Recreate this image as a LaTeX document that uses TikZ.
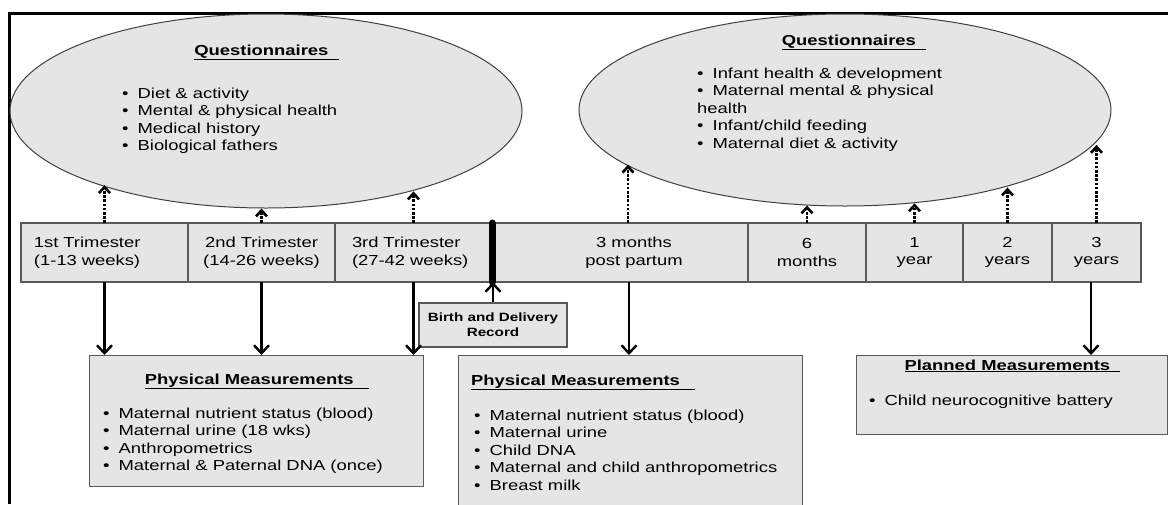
\documentclass[tikz,border=0pt]{standalone}
\usepackage{fontspec}
\setmainfont{Liberation Sans}[FakeStretch=1.27]
\usetikzlibrary{arrows.meta,positioning,shapes.geometric}
\newcommand{\itm}{\textbullet\hspace{9pt}}

\begin{document}
\begin{tikzpicture}[x=1pt,y=-1pt,
  font=\fontsize{14.5}{17.5}\selectfont,
  qbubble/.style={ellipse,draw=black!75,line width=1pt,fill=gray!20,inner sep=0pt},
  period/.style={draw=black!65,line width=1.3pt,fill=gray!20,minimum height=59pt,inner sep=0pt,outer sep=0pt,align=center},
  mbox/.style={draw=black!65,line width=1.3pt,fill=gray!20,inner sep=0pt,anchor=north west},
  ttl/.style={font=\fontsize{14.5}{17.5}\selectfont\bfseries,inner sep=0pt,anchor=base},
  lst/.style={align=left,inner sep=0pt,anchor=north west},
  meas/.style={-{Straight Barb[length=8pt,width=15pt]},line width=2.4pt},
  quest/.style={-{Straight Barb[length=6pt,width=11pt]},line width=2.6pt,dash pattern=on 2.6pt off 1.6pt}]
\useasboundingbox (0,0) rectangle (1168,504);
\clip (0,0) rectangle (1168,504);
\draw[line width=3pt] (9,504) -- (9,13) -- (1168,13);
% questionnaires
\node[qbubble,minimum width=512pt,minimum height=194pt] (qa) at (266,111) {};
\node[qbubble,minimum width=532pt,minimum height=192pt] (qb) at (845,110) {};
\node[ttl] (qaT) at (266.5,55) {\underline{Questionnaires~~}};
\node[ttl] (qbT) at (854,45) {\underline{Questionnaires~~}};
\node[lst] (qaL) at (122,87.5) {\itm Diet \& activity\\\itm Mental \& physical health\\\itm Medical history\\\itm Biological fathers};
\node[lst] (qbL) at (697,67.5) {\itm Infant health \& development\\\itm Maternal mental \& physical\\health\\\itm Infant/child feeding\\\itm Maternal diet \& activity};
% timeline
\node[period,minimum width=167pt,text width=141pt,inner xsep=13pt,align=left,anchor=north west] (t1) at (21,223) {1st Trimester\\(1-13 weeks)};
\node[period,minimum width=147pt,right=0pt of t1] (t2) {2nd Trimester\\(14-26 weeks)};
\node[period,minimum width=157pt,text width=123pt,inner xsep=17pt,align=left,right=0pt of t2] (t3) {3rd Trimester\\(27-42 weeks)};
\node[period,minimum width=256pt,right=0pt of t3] (t4) {};
\node[align=center,inner sep=0pt] (t4txt) at ([xshift=14pt]t4.center) {3 months\\post partum};
\node[period,minimum width=118pt,right=0pt of t4] (t5) {6\\months};
\node[period,minimum width=97pt,right=0pt of t5] (t6) {1\\year};
\node[period,minimum width=89pt,right=0pt of t6] (t7) {2\\years};
\node[period,minimum width=89pt,right=0pt of t7] (t8) {3\\years};
% birth
\draw[line width=7pt,line cap=round] (t3.north east) -- (t3.south east);
\node[mbox,anchor=center,minimum width=148pt,minimum height=44pt,align=center,font=\fontsize{12}{15}\selectfont\bfseries] (bd) at (493,325) {Birth and Delivery\\Record};
\draw[meas] (bd.north) -- (bd.north |- t3.south);
% measurements
\node[mbox,minimum width=334pt,minimum height=131pt] (pm1) at (89,355) {};
\node[mbox,minimum width=344pt,minimum height=170pt] (pm2) at (458,355) {};
\node[mbox,minimum width=311pt,minimum height=79pt] (pl) at (856,355) {};
\node[ttl] (pm1T) at (257,384) {\underline{Physical Measurements~~~}};
\node[ttl,anchor=base west] (pm2T) at (471,385) {\underline{Physical Measurements~~~}};
\node[ttl] (plT) at (1012.5,370) {\underline{Planned Measurements~~}};
\node[lst] (pm1L) at (103,407.5) {\itm Maternal nutrient status (blood)\\\itm Maternal urine (18 wks)\\\itm Anthropometrics\\\itm Maternal \& Paternal DNA (once)};
\node[lst] (pm2L) at (474,409.5) {\itm Maternal nutrient status (blood)\\\itm Maternal urine\\\itm Child DNA\\\itm Maternal and child anthropometrics\\\itm Breast milk};
\node[lst] (plL) at (869,394.5) {\itm Child neurocognitive battery};
% arrows
\coordinate (m4) at ([xshift=9pt]t4.south);
\coordinate (m8) at ([xshift=-5.5pt]t8.south);
\coordinate (q4) at ([xshift=8pt]t4.north);
\foreach \p/\b in {t1.south/pm1, t2.south/pm1, t3.south/pm1, m4/pm2, m8/pl}
  \draw[meas] (\p) -- (\p |- \b.north);
\foreach \p/\a in {t1.north/qa.204.9, t2.north/qa.267.3, t3.north/qa.331.7, q4/qb.194.3,
    t5.north/qb.248.2, t6.north/qb.306.9, t7.north/qb.334.9, t8.north/qb.352.9}
  \draw[quest] (\p) -- (\p |- \a);
\end{tikzpicture}
\end{document}
